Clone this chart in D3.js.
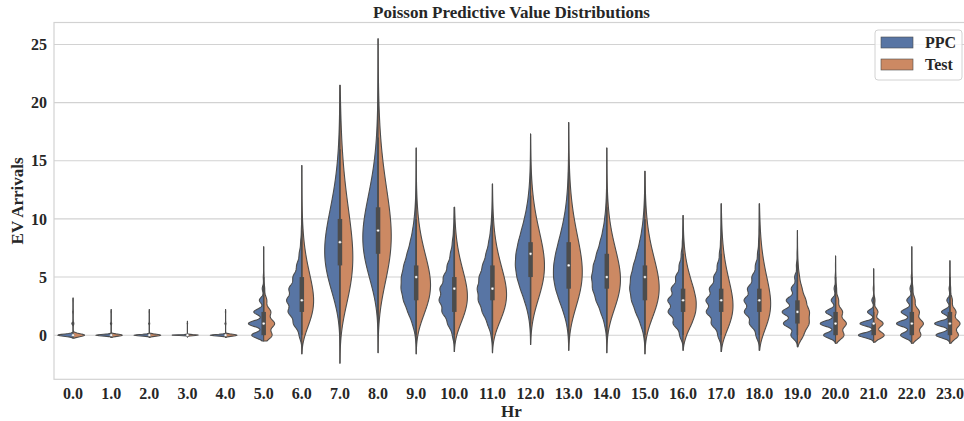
<!DOCTYPE html>
<html>
<head>
<meta charset="utf-8">
<script src="https://cdn.jsdelivr.net/npm/d3@7/dist/d3.min.js"></script>
<style>
  body { margin: 0; background: #fff; }
  svg { display: block; font-family: "Liberation Serif", "Times New Roman", serif; font-weight: bold; }
</style>
</head>
<body>
<svg width="964" height="421"></svg>
<script>
// hour categories on the x axis
const hours = ["0.0", "1.0", "2.0", "3.0", "4.0", "5.0", "6.0", "7.0", "8.0", "9.0", "10.0", "11.0",
               "12.0", "13.0", "14.0", "15.0", "16.0", "17.0", "18.0", "19.0", "20.0", "21.0", "22.0", "23.0"];

// mean / spread of the EV arrival counts
const ppcMean  = [0.14, 0.08, 0.07, 0.03, 0.07, 1.3, 3.4, 8.2, 9.2, 5.0, 3.8, 4.4, 6.7, 6.1, 5.3, 4.8, 3.1, 3.1, 3.1, 2.2, 1.3, 0.9, 1.4, 1.1];
const ppcSd    = [0.5, 0.36, 0.34, 0.24, 0.34, 1.15, 1.9, 3.5, 3.5, 2.4, 2.0, 2.2, 2.6, 2.7, 2.3, 2.4, 1.8, 1.8, 1.8, 1.5, 1.15, 0.95, 1.2, 1.05];
const testMean = [0.12, 0.07, 0.06, 0.03, 0.06, 1.3, 3.8, 8.2, 9.6, 5.0, 4.0, 4.2, 6.6, 6.3, 5.4, 4.8, 3.2, 3.4, 3.6, 2.1, 1.3, 0.9, 1.3, 1.2];
const testSd   = [0.46, 0.33, 0.32, 0.24, 0.32, 1.1, 2.3, 4.2, 4.0, 2.5, 2.2, 2.3, 2.8, 3.0, 2.5, 2.5, 1.9, 2.2, 2.3, 1.5, 1.15, 0.95, 1.15, 1.1];

// ends of the violin tails (EV arrivals)
const tailTop    = [3.2, 2.2, 2.2, 1.2, 2.2, 7.6, 14.6, 21.5, 25.5, 16.1, 11.0, 13.0, 17.3, 18.3, 16.1, 14.1, 10.3, 11.3, 11.3, 9.0, 6.8, 5.7, 7.6, 6.4];
const tailBottom = [-0.25, -0.2, -0.2, -0.15, -0.2, -0.5, -1.6, -2.4, -1.5, -1.6, -1.4, -1.5, -0.8, -1.3, -1.5, -1.6, -1.3, -1.4, -1.3, -1.0, -0.7, -0.6, -0.7, -0.7];

// sample sizes -> scott bandwidth factor
const nPPC = 2000;
const nTest = 300;

const seriesNames = ["PPC", "Test"];
const seriesColors = ["#5875a4", "#cc8963"];
const gray = "#4c4c4c";

const svg = d3.select("svg");
const plotLeft = 54, plotRight = 969, plotTop = 22.5, plotBottom = 379.3;

const x = d3.scaleBand().domain(hours).range([plotLeft, plotRight]).padding(0);

const lo = d3.min(tailBottom), hi = d3.max(tailTop);
const pad = 0.05 * (hi - lo);
const y = d3.scaleLinear().domain([lo - pad, hi + pad]).range([plotBottom, plotTop]);

// count distribution: poisson, or negative binomial when overdispersed
function countPmf(mean, sd, kMax) {
    const p = [];
    const v = sd * sd;
    if (v > mean) {
        const r = mean * mean / (v - mean);
        const q = mean / v;
        p[0] = Math.pow(q, r);
        for (let k = 1; k <= kMax; k++) p[k] = p[k - 1] * (k - 1 + r) / k * (1 - q);
    } else {
        p[0] = Math.exp(-mean);
        for (let k = 1; k <= kMax; k++) p[k] = p[k - 1] * mean / k;
    }
    const s = d3.sum(p);
    return p.map(d => d / s);
}

function kde(pmf, bw, a, b) {
    const n = Math.ceil((b - a) / 0.04);
    return d3.range(n + 1).map(i => {
        const v = a + (b - a) * i / n;
        let d = 0;
        pmf.forEach((p, k) => {
            const z = (v - k) / bw;
            d += p * Math.exp(-0.5 * z * z);
        });
        return [v, d / (bw * Math.sqrt(2 * Math.PI))];
    });
}

function quantile(pmf, q) {
    let c = 0;
    for (let k = 0; k < pmf.length; k++) {
        c += pmf[k];
        if (c >= q - 1e-9) return k;
    }
    return pmf.length - 1;
}

// grid
const gGrid = svg.append("g");
gGrid.selectAll("line")
    .data(y.ticks(6))
    .join("line")
    .attr("x1", plotLeft).attr("x2", plotRight)
    .attr("y1", d => y(d)).attr("y2", d => y(d))
    .attr("stroke", "#d2d2d2")
    .attr("stroke-width", 1.1);

svg.append("rect")
    .attr("x", plotLeft).attr("y", plotTop)
    .attr("width", plotRight - plotLeft).attr("height", plotBottom - plotTop)
    .attr("fill", "none")
    .attr("stroke", "#d2d2d2")
    .attr("stroke-width", 1.2);

// violins
const halfWidth = x.bandwidth() * 0.4;
const gViolins = svg.append("g");

hours.forEach((h, i) => {
    const cx = x(h) + x.bandwidth() / 2;
    const kMax = Math.floor(tailTop[i]);
    const pmfs = [countPmf(ppcMean[i], ppcSd[i], kMax), countPmf(testMean[i], testSd[i], kMax)];
    const factors = [Math.pow(nPPC, -0.2), Math.pow(nTest, -0.2)];
    const dens = pmfs.map((pmf, s) => {
        const m = d3.sum(pmf, (p, k) => p * k);
        const sdData = Math.sqrt(d3.sum(pmf, (p, k) => p * k * k) - m * m);
        return kde(pmf, factors[s] * sdData, tailBottom[i], tailTop[i]);
    });
    const maxD = d3.max(dens, d => d3.max(d, e => e[1]));
    const w = d3.scaleLinear().domain([0, maxD]).range([0, halfWidth]);

    dens.forEach((d, s) => {
        const dir = s === 0 ? -1 : 1;
        const area = d3.area()
            .y(e => y(e[0]))
            .x0(cx)
            .x1(e => cx + dir * w(e[1]));
        gViolins.append("path")
            .attr("d", area(d))
            .attr("fill", seriesColors[s])
            .attr("stroke", gray)
            .attr("stroke-width", 1.1)
            .attr("stroke-linejoin", "round");
    });

    // inner box on pooled data
    const wp = nPPC / (nPPC + nTest);
    const pooled = pmfs[0].map((p, k) => wp * p + (1 - wp) * pmfs[1][k]);
    const q25 = quantile(pooled, 0.25), q50 = quantile(pooled, 0.5), q75 = quantile(pooled, 0.75);
    const lim = 1.5 * (q75 - q25);
    const h1 = Math.max(0, Math.ceil(q25 - lim));
    const h2 = Math.min(kMax, Math.floor(q75 + lim));
    gViolins.append("line")
        .attr("x1", cx).attr("x2", cx)
        .attr("y1", y(h1)).attr("y2", y(h2))
        .attr("stroke", gray).attr("stroke-width", 1.5);
    gViolins.append("line")
        .attr("x1", cx).attr("x2", cx)
        .attr("y1", y(q25)).attr("y2", y(q75))
        .attr("stroke", gray).attr("stroke-width", 4.5);
    gViolins.append("circle")
        .attr("cx", cx).attr("cy", y(q50))
        .attr("r", 1.4)
        .attr("fill", "white")
        .attr("stroke", gray)
        .attr("stroke-width", 0.4);
});

// axes
const yAxis = svg.append("g")
    .attr("transform", `translate(${plotLeft},0)`)
    .call(d3.axisLeft(y).ticks(6).tickSize(0).tickPadding(7));
yAxis.select(".domain").remove();
yAxis.selectAll("text")
    .attr("font-size", 16)
    .attr("font-family", "Liberation Serif, serif")
    .attr("font-weight", "bold")
    .attr("fill", "#262626");

const xAxis = svg.append("g")
    .attr("transform", `translate(0,${plotBottom})`)
    .call(d3.axisBottom(x).tickSize(0).tickPadding(8));
xAxis.select(".domain").remove();
xAxis.selectAll("text")
    .attr("font-size", 16)
    .attr("font-family", "Liberation Serif, serif")
    .attr("font-weight", "bold")
    .attr("fill", "#262626");

// labels
const midX = (plotLeft + plotRight) / 2;
svg.append("text")
    .attr("x", midX).attr("y", 18)
    .attr("text-anchor", "middle")
    .attr("font-size", 17)
    .attr("fill", "#262626")
    .text("Poisson Predictive Value Distributions");

svg.append("text")
    .attr("x", midX).attr("y", 417)
    .attr("text-anchor", "middle")
    .attr("font-size", 17)
    .attr("fill", "#262626")
    .text("Hr");

svg.append("text")
    .attr("transform", `translate(23,${(plotTop + plotBottom) / 2}) rotate(-90)`)
    .attr("text-anchor", "middle")
    .attr("font-size", 17)
    .attr("fill", "#262626")
    .text("EV Arrivals");

// legend
const legend = svg.append("g");
legend.append("rect")
    .attr("x", 875).attr("y", 30)
    .attr("width", 87).attr("height", 50)
    .attr("rx", 3)
    .attr("fill", "white").attr("fill-opacity", 0.8)
    .attr("stroke", "#d2d2d2");
seriesNames.forEach((name, s) => {
    legend.append("rect")
        .attr("x", 881).attr("y", 37 + s * 22)
        .attr("width", 32).attr("height", 11)
        .attr("fill", seriesColors[s])
        .attr("stroke", gray).attr("stroke-width", 0.6);
    legend.append("text")
        .attr("x", 925).attr("y", 48 + s * 22)
        .attr("font-size", 16)
        .attr("fill", "#262626")
        .text(name);
});
</script>
</body>
</html>
